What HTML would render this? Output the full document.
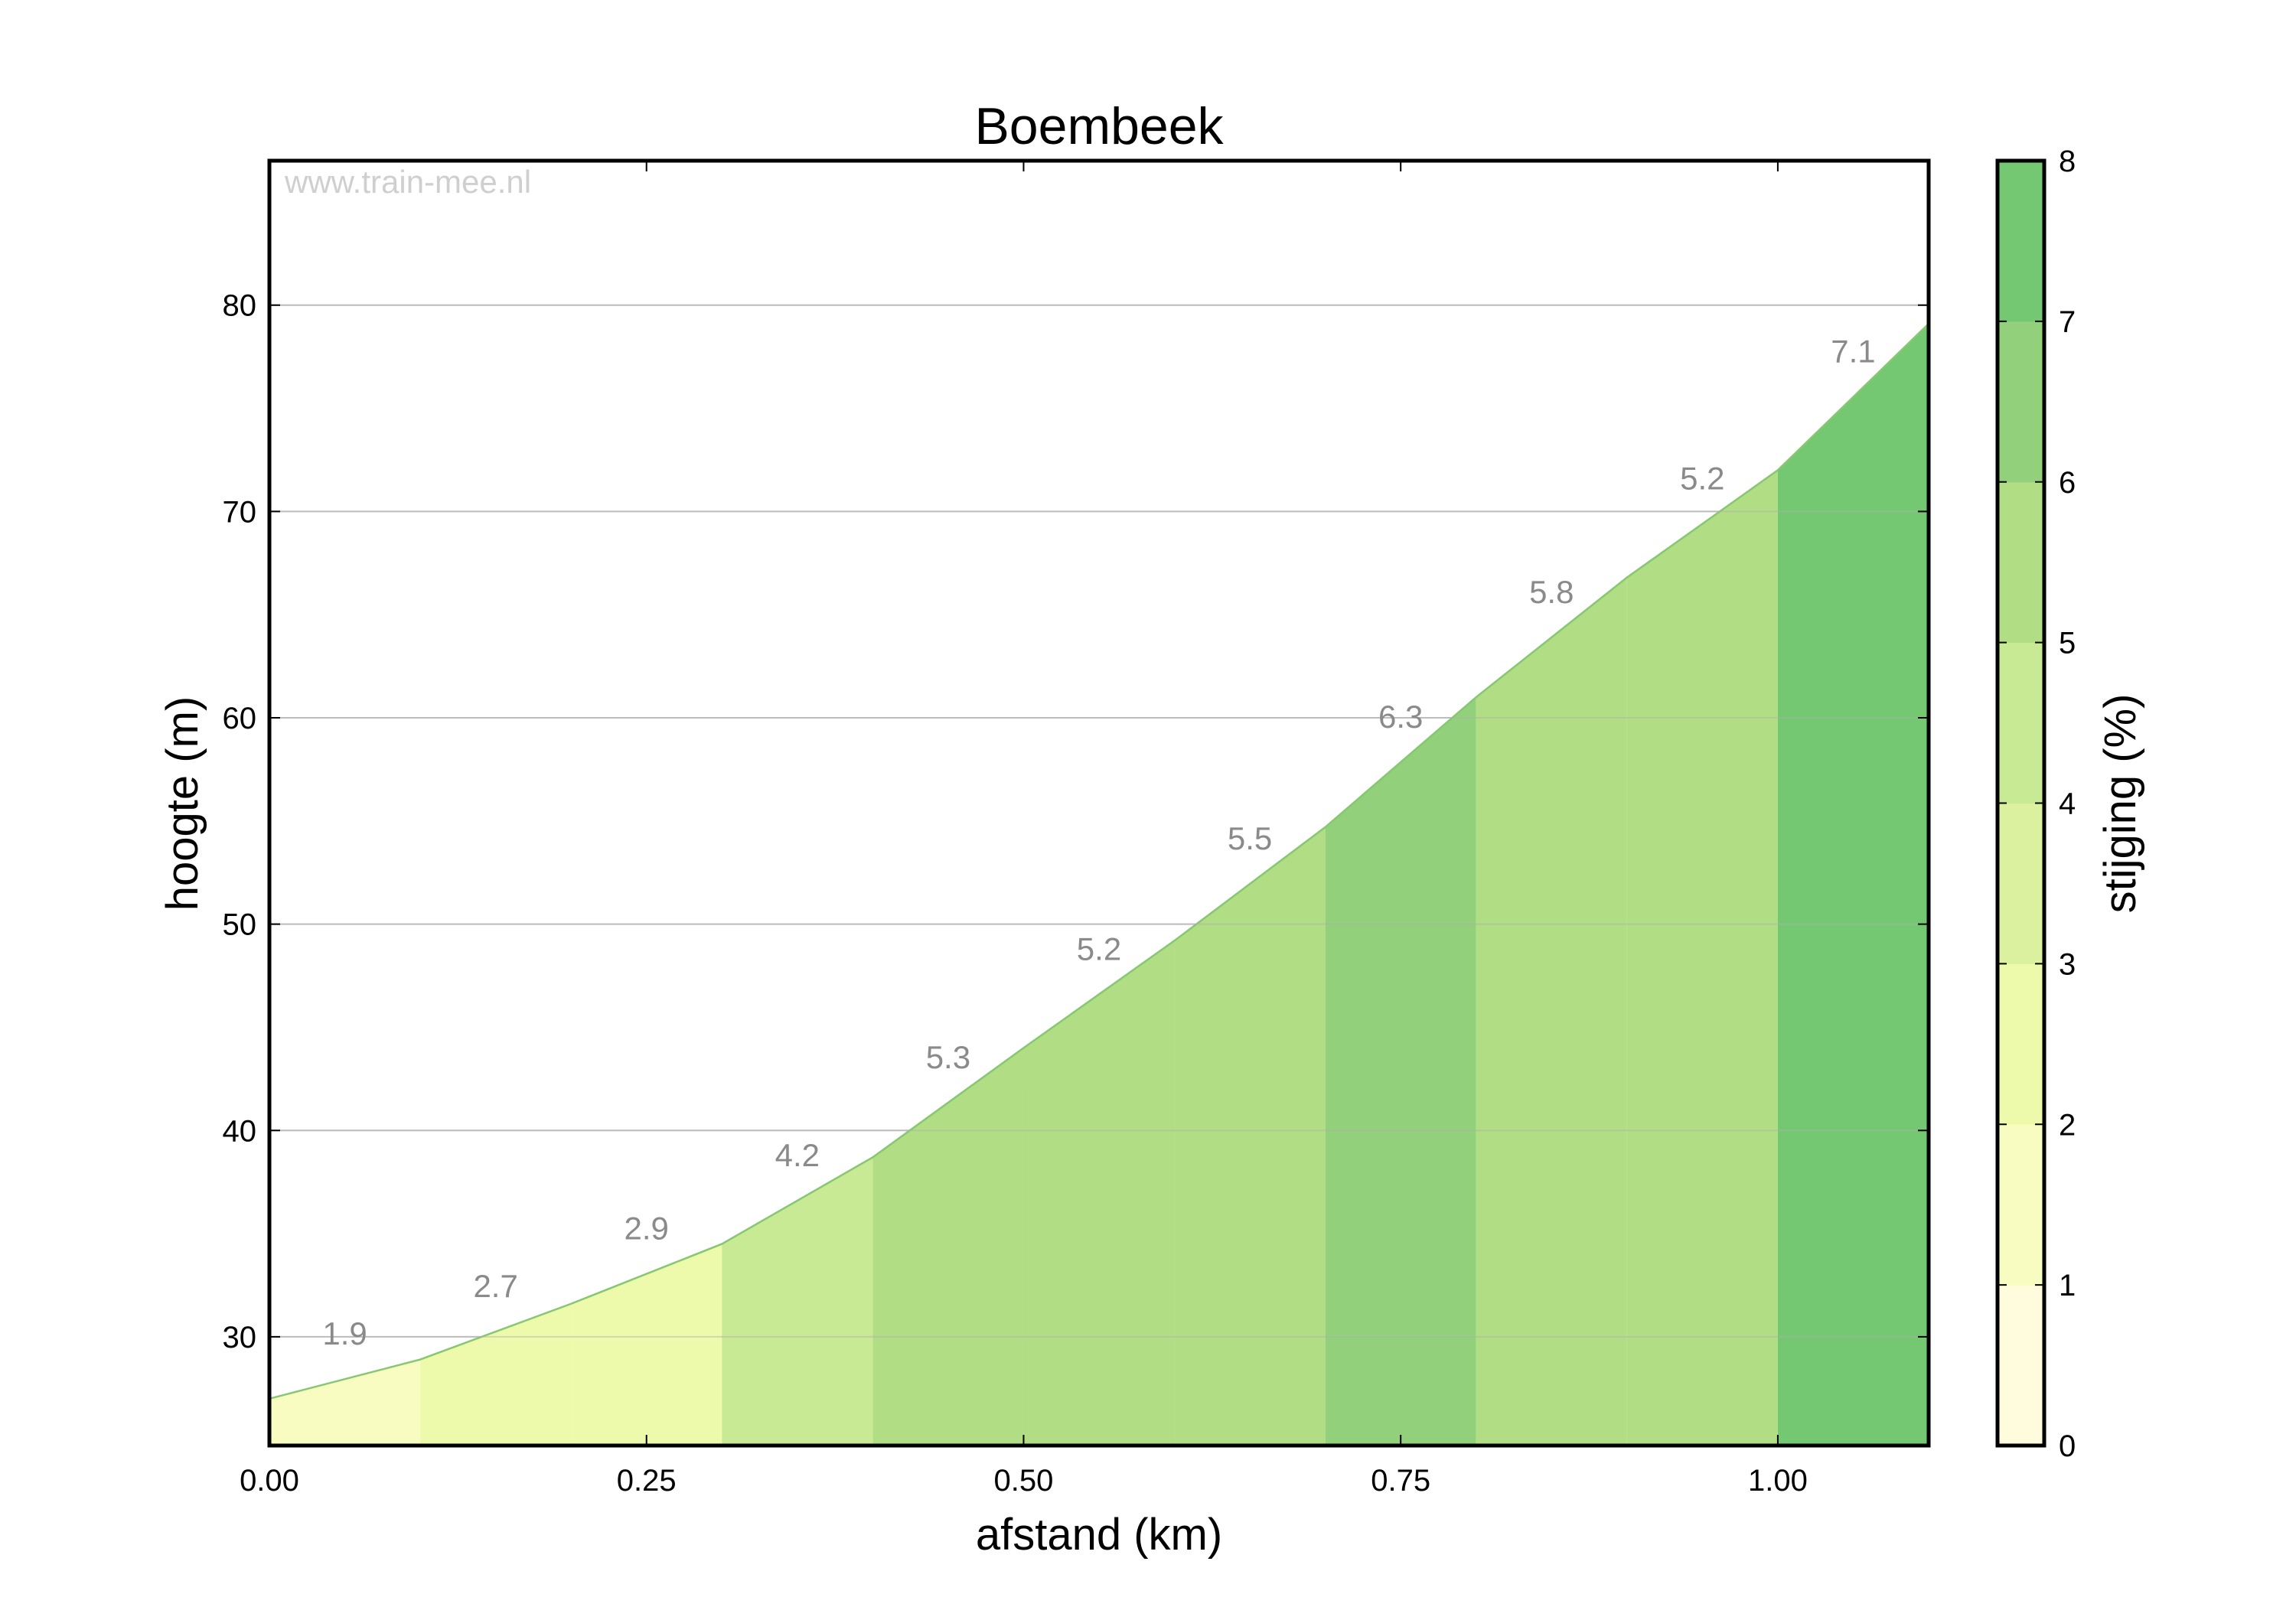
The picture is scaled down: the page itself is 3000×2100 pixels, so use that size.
<!DOCTYPE html>
<html><head><meta charset="utf-8"><style>
html,body{margin:0;padding:0;background:#fff;}
svg{display:block;font-family:"Liberation Sans",sans-serif;}
</style></head><body>
<svg id="chart" width="3000" height="2100" viewBox="0 0 3000 2100" xmlns="http://www.w3.org/2000/svg">
<rect width="3000" height="2100" fill="#fff"/>
<g id="g"></g>
</svg>
<script>
const distances = [0,0.1,0.2,0.3,0.4,0.5,0.6,0.7,0.8,0.9,1.0,1.1];
const elevations = [27,28.9,31.6,34.5,38.7,44.0,49.2,54.7,61.0,66.8,72.0,79.1];
const gradients = [1.9,2.7,2.9,4.2,5.3,5.2,5.5,6.3,5.8,5.2,7.1];
const xTicks = [0,0.25,0.5,0.75,1.0];
const xTickLabels = ["0.00","0.25","0.50","0.75","1.00"];
const yTicks = [30,40,50,60,70,80];
const cbTicks = [0,1,2,3,4,5,6,7,8];
const binColors = ["#fefcdc","#f8fcc0","#edf9ab","#dcf1a0","#c9ea95","#b1de85","#92d07b","#74c872"];

const NS="http://www.w3.org/2000/svg";
const g=document.getElementById('g');
const L=352,R=2520,T=210,B=1889;
const xMin=0,xMax=1.1,yMin=24.73,yMax=87.0;
const X=v=>L+(v-xMin)/(xMax-xMin)*(R-L);
const Y=v=>B-(v-yMin)/(yMax-yMin)*(B-T);
function el(tag,attrs,parent){const e=document.createElementNS(NS,tag);for(const k in attrs)e.setAttribute(k,attrs[k]);(parent||g).appendChild(e);return e;}
function colorFor(v){return binColors[Math.max(0,Math.min(7,Math.floor(v)))];}

// gridlines
yTicks.forEach(v=>{const l=el('line',{x1:L,x2:R,y1:Y(v),y2:Y(v),stroke:'#c8c8c8','stroke-width':2});
});

// segments
for(let i=0;i<gradients.length;i++){
  const x0=X(distances[i]),x1=X(distances[i+1]);
  const p=el('polygon',{points:`${x0},${B} ${x0},${Y(elevations[i])} ${x1},${Y(elevations[i+1])} ${x1},${B}`,fill:colorFor(gradients[i])});
  
}
// profile line
const pl=el('polyline',{points:distances.map((d,i)=>`${X(d)},${Y(elevations[i])}`).join(' '),fill:'none',stroke:'#86c771','stroke-width':2.5});

// gridlines over area (light)
yTicks.forEach(v=>{const l=el('line',{x1:L,x2:R,y1:Y(v),y2:Y(v),stroke:'#b0b0b0','stroke-width':2,'stroke-opacity':0.45});
});

// gradient labels
for(let i=0;i<gradients.length;i++){
  const xm=X((distances[i]+distances[i+1])/2);
  const ym=Y((elevations[i]+elevations[i+1])/2)-45;
  const t=el('text',{x:xm,y:ym,'text-anchor':'middle','font-size':42,fill:'#8a8a8a'});
  t.textContent=gradients[i].toFixed(1);
  
}

// watermark
const w=el('text',{x:372,y:252,'font-size':42,fill:'#cfcfcf'});w.textContent='www.train-mee.nl';


// frame
const fr=el('rect',{x:L,y:T,width:R-L,height:B-T,fill:'none',stroke:'#000','stroke-width':5});


// x ticks
xTicks.forEach((v,i)=>{
  el('line',{x1:X(v),x2:X(v),y1:B,y2:B-14,stroke:'#000','stroke-width':2});
  el('line',{x1:X(v),x2:X(v),y1:T,y2:T+14,stroke:'#000','stroke-width':2});
  const t=el('text',{x:X(v),y:1948,'text-anchor':'middle','font-size':40,fill:'#000'});t.textContent=xTickLabels[i];
  
});
// y ticks
yTicks.forEach(v=>{
  el('line',{x1:L,x2:L+14,y1:Y(v),y2:Y(v),stroke:'#000','stroke-width':2});
  el('line',{x1:R,x2:R-14,y1:Y(v),y2:Y(v),stroke:'#000','stroke-width':2});
  const t=el('text',{x:335,y:Y(v)+14,'text-anchor':'end','font-size':40,fill:'#000'});t.textContent=String(v);
  
});

// titles
let t=el('text',{x:1436,y:188,'text-anchor':'middle','font-size':68,fill:'#000'});t.textContent='Boembeek';

t=el('text',{x:1436,y:2025,'text-anchor':'middle','font-size':58,fill:'#000'});t.textContent='afstand (km)';

t=el('text',{x:0,y:0,'text-anchor':'middle','font-size':58,fill:'#000',transform:`translate(258,1050) rotate(-90)`});t.textContent='hoogte (m)';


// colorbar
const CL=2610,CR=2671;
const CY=v=>B-(v-cbTicks[0])/(cbTicks[cbTicks.length-1]-cbTicks[0])*(B-T);
for(let i=0;i<binColors.length;i++){
  const r=el('rect',{x:CL,y:CY(i+1),width:CR-CL,height:CY(i)-CY(i+1)+0.5,fill:binColors[i]});
  
}
const cf=el('rect',{x:CL,y:T,width:CR-CL,height:B-T,fill:'none',stroke:'#000','stroke-width':5});

cbTicks.forEach(v=>{
  el('line',{x1:CR,x2:CR-12,y1:CY(v),y2:CY(v),stroke:'#000','stroke-width':2});
  el('line',{x1:CL,x2:CL+12,y1:CY(v),y2:CY(v),stroke:'#000','stroke-width':2});
  const tt=el('text',{x:2690,y:CY(v)+14,'font-size':40,fill:'#000'});tt.textContent=String(v);
  
});
t=el('text',{x:0,y:0,'text-anchor':'middle','font-size':58,fill:'#000',transform:`translate(2790,1050) rotate(-90)`});t.textContent='stijging (%)';

</script>
</body></html>
